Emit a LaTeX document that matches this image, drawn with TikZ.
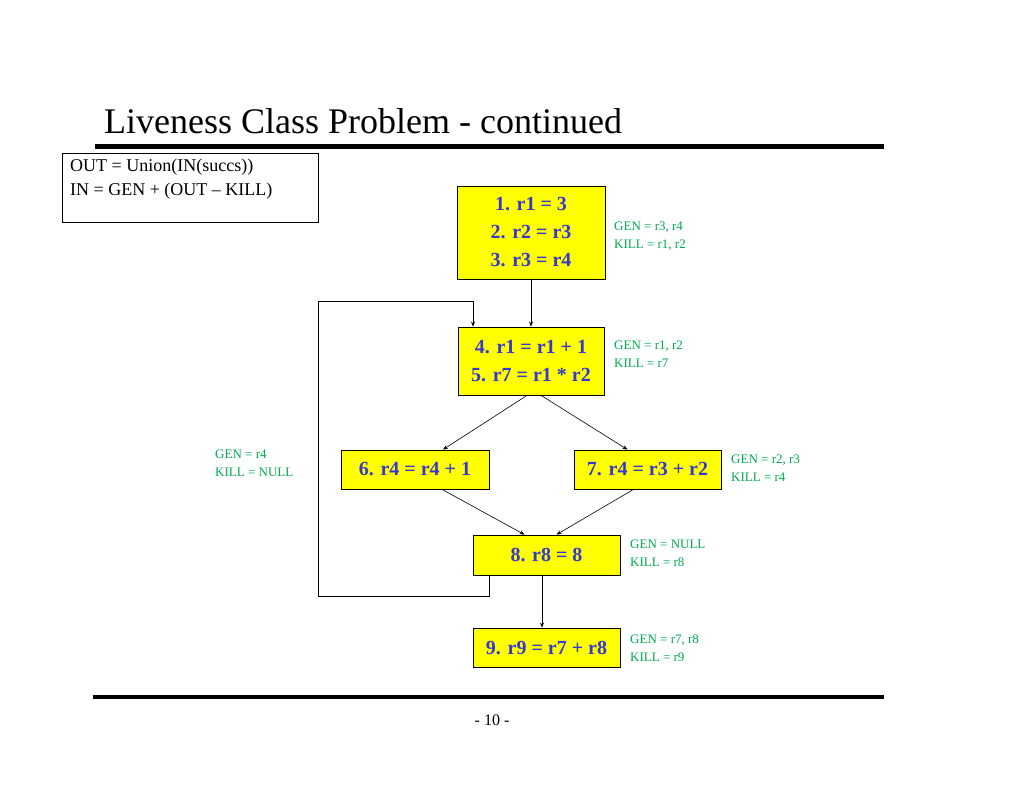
\documentclass[tikz,border=0pt]{standalone}
\usepackage{fontspec}
\setmainfont{Liberation Serif}
\usetikzlibrary{arrows.meta}
\definecolor{bblue}{RGB}{55,55,210}
\definecolor{ggreen}{RGB}{0,170,80}
\definecolor{byellow}{RGB}{255,255,0}
\tikzset{
 blk/.style={draw=black,line width=0.8pt,fill=byellow,text=bblue,font=\fontsize{20}{23}\selectfont\bfseries,inner sep=0pt,align=center},
 gk/.style={text=ggreen,font=\fontsize{13}{18}\selectfont,align=left,anchor=north west,inner sep=0pt},
 arr/.style={-{Stealth[length=5pt,width=4pt]},line width=0.6pt}
}
\begin{document}
\begin{tikzpicture}[x=1pt,y=-1pt]
\useasboundingbox (0,0) rectangle (1024,791);
\node[anchor=base west,inner sep=0pt,font=\fontsize{36}{40}\selectfont] (title) at (104,134) {Liveness Class Problem - continued};
\draw[line width=5pt] (95,147) -- (884,147);
\draw[line width=4pt] (93,697) -- (884,697);
\node[font=\fontsize{16}{18}\selectfont] (pg) at (492,720) {- 10 -};
\node[draw,line width=0.8pt,minimum width=256pt,minimum height=69pt,anchor=north west,inner sep=0pt] (eq) at (62,153) {};
\node[anchor=north west,align=left,inner sep=0pt,font=\fontsize{18}{24}\selectfont] (eqt) at (70,159) {OUT = Union(IN(succs))\\IN = GEN + (OUT -- KILL)};
\node[blk,minimum width=148pt,minimum height=93pt,font=\fontsize{20}{28}\selectfont\bfseries] (b1) at (531,232.5) {1. r1 = 3\\2. r2 = r3\\3. r3 = r4};
\node[blk,minimum width=146pt,minimum height=68pt,font=\fontsize{20}{28}\selectfont\bfseries] (b2) at (531,361) {4. r1 = r1 + 1\\5. r7 = r1 * r2};
\node[blk,minimum width=148pt,minimum height=39pt] (b6) at (415,469.5) {6. r4 = r4 + 1};
\node[blk,minimum width=147pt,minimum height=39pt] (b7) at (647.5,469.5) {7. r4 = r3 + r2};
\node[blk,minimum width=147pt,minimum height=40pt] (b8) at (546.5,555) {8. r8 = 8};
\node[blk,minimum width=147pt,minimum height=39pt] (b9) at (546.5,647.5) {9. r9 = r7 + r8};
\node[gk] (g1) at (614,222) {GEN = r3, r4\\KILL = r1, r2};
\node[gk] (g2) at (614,341) {GEN = r1, r2\\KILL = r7};
\node[gk] (g6) at (215,450) {GEN = r4\\KILL = NULL};
\node[gk] (g7) at (731,455) {GEN = r2, r3\\KILL = r4};
\node[gk] (g8) at (630,540) {GEN = NULL\\KILL = r8};
\node[gk] (g9) at (630,635) {GEN = r7, r8\\KILL = r9};
\draw[arr] (b1.south) -- (b2.north);
\draw[arr] ([xshift=-4pt]b2.south) -- ([xshift=28pt]b6.north);
\draw[arr] ([xshift=10pt]b2.south) -- ([xshift=-20pt]b7.north);
\draw[arr] ([xshift=27pt]b6.south) -- ([xshift=-22pt]b8.north);
\draw[arr] ([xshift=-14pt]b7.south) -- ([xshift=10pt]b8.north);
\draw[arr] ([xshift=-4.5pt]b8.south) -- ([xshift=-4.5pt]b9.north);
\coordinate (l1) at (489,596);
\coordinate (l2) at (318,596);
\coordinate (l3) at (318,301);
\coordinate (l4) at (473,301);
\draw[arr] ([xshift=-57.5pt]b8.south) -- (l1) -- (l2) -- (l3) -- (l4) -- (b2.north west -| l4);
\end{tikzpicture}
\end{document}
